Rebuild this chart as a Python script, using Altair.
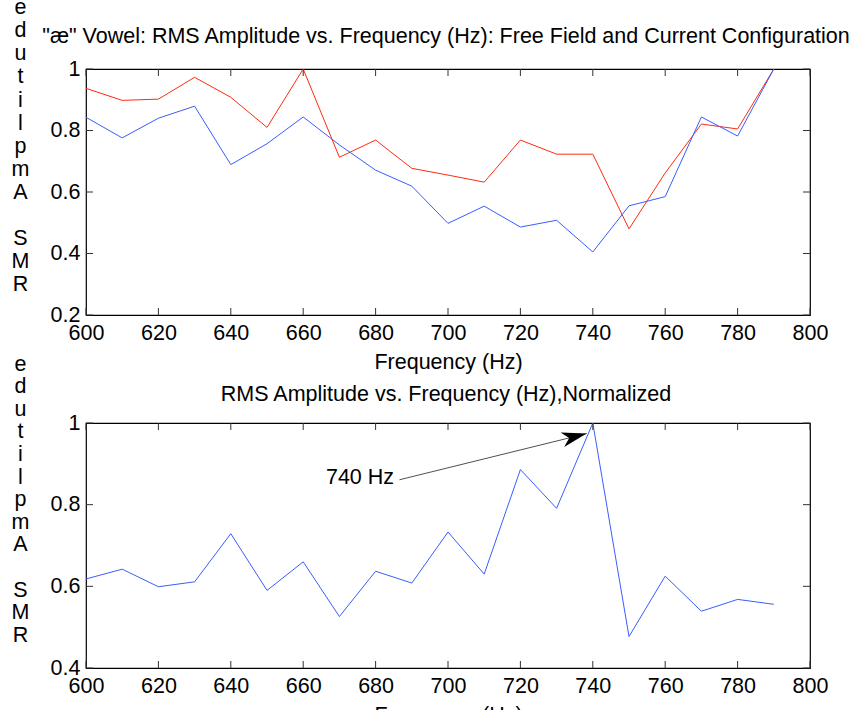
import altair as alt
import pandas as pd

# Frequencies swept (Hz)
freqs = [600, 610, 620, 630, 640, 650, 660, 670, 680, 690,
         700, 710, 720, 730, 740, 750, 760, 770, 780, 790]

# RMS amplitude, normalised to each series' maximum
free_field = [0.937, 0.898, 0.902, 0.973, 0.908, 0.810, 1.000, 0.713, 0.769, 0.677,
              0.655, 0.632, 0.769, 0.723, 0.723, 0.480, 0.662, 0.821, 0.805, 1.000]
current_cfg = [0.843, 0.776, 0.840, 0.879, 0.689, 0.757, 0.844, 0.753, 0.671, 0.619,
               0.498, 0.554, 0.486, 0.508, 0.405, 0.555, 0.585, 0.844, 0.782, 1.000]

# Ratio of the two configurations, normalised
normalized = [0.618, 0.642, 0.599, 0.611, 0.729, 0.590, 0.660, 0.526, 0.637, 0.608,
              0.733, 0.630, 0.886, 0.791, 1.000, 0.477, 0.625, 0.539, 0.568, 0.556]

x_ticks = [600, 620, 640, 660, 680, 700, 720, 740, 760, 780, 800]
y_ticks_top = [0.2, 0.4, 0.6, 0.8, 1.0]
y_ticks_bottom = [0.4, 0.6, 0.8, 1.0]

title_top = '"æ" Vowel: RMS Amplitude vs. Frequency (Hz): Free Field and Current Configuration'
title_bottom = "RMS Amplitude vs. Frequency (Hz),Normalized"
x_title = "Frequency (Hz)"
# y label stacked one character per line (zero-width space keeps the gap line)
y_title_lines = ["e", "d", "u", "t", "i", "l", "p", "m", "A", "\u200b", "S", "M", "R"]

# Peak annotation: label position and arrow from the label to the peak
note_text = ["740 Hz"]
note_x = [685.1]
note_y = [0.851]
arrow_x = [686.6]
arrow_y = [0.861]
arrow_x2 = [738.3]
arrow_y2 = [0.974]

FONT = "Liberation Sans"
FS = 21.5
W = 724
H1 = 246
H2 = 245
TICK = 7
RED = "#ff2a10"
BLUE = "#3a5cff"

X_DOM = [600, 800]
x_scale = alt.Scale(domain=X_DOM, nice=False, zero=False)


def y_label_expr():
    return "datum.value == 1 ? '1' : format(datum.value, '.1f')"


def x_axis():
    return alt.Axis(values=x_ticks, format="d", ticks=False, tickSize=0, domain=False,
                    grid=False, labelPadding=24, labelBaseline="alphabetic",
                    labelFlush=False, labelOverlap=False,
                    labelFont=FONT, labelFontSize=FS, labelColor="#000",
                    title=x_title, titleFont=FONT, titleFontSize=FS,
                    titleFontWeight="normal", titleColor="#000",
                    titleX=W / 2, titleY=53, titleBaseline="alphabetic",
                    titleAlign="center")


def y_axis(vals, title_y, line_h):
    return alt.Axis(values=vals, labelExpr=y_label_expr(), ticks=False, tickSize=0,
                    domain=False, grid=False, labelPadding=6,
                    labelBaseline="middle", labelFlush=False, labelOverlap=False,
                    labelFont=FONT, labelFontSize=FS, labelColor="#000",
                    title=y_title_lines, titleFont=FONT, titleFontSize=FS,
                    titleFontWeight="normal", titleColor="#000", titleAngle=0,
                    titleAlign="center", titleBaseline="alphabetic",
                    titleX=-66, titleY=title_y, titleLineHeight=line_h)


def tick_layer(yvals, y_dom, y_scale, height, xax, yax):
    """Short inward tick marks on all four sides of the plot box (rule segments)."""
    dx = TICK * (X_DOM[1] - X_DOM[0]) / W          # tick length in Hz
    dy = TICK * (y_dom[1] - y_dom[0]) / height     # tick length in amplitude units
    rows = []
    for v in x_ticks:
        rows.append((v, y_dom[0], v, y_dom[0] + dy))      # bottom edge
        rows.append((v, y_dom[1], v, y_dom[1] - dy))      # top edge
    for v in yvals:
        rows.append((X_DOM[0], v, X_DOM[0] + dx, v))      # left edge
        rows.append((X_DOM[1], v, X_DOM[1] - dx, v))      # right edge
    df = pd.DataFrame(rows, columns=["freq", "amp", "freq2", "amp2"])
    return alt.Chart(df).mark_rule(color="#333333", strokeWidth=1).encode(
        x=alt.X("freq:Q", scale=x_scale, axis=xax),
        y=alt.Y("amp:Q", scale=y_scale, axis=yax),
        x2="freq2:Q", y2="amp2:Q",
    )


def title_mark(text, y_px):
    return alt.Chart(pd.DataFrame({"t": [text]})).mark_text(
        font=FONT, fontSize=FS, color="#000", align="center", baseline="alphabetic"
    ).encode(text="t:N", x=alt.value(W / 2 - 2), y=alt.value(y_px))


# ---- top panel: both configurations ----
top_df = pd.DataFrame({
    "freq": freqs * 2,
    "amp": free_field + current_cfg,
    "series": ["Free Field"] * len(freqs) + ["Current Configuration"] * len(freqs),
})
Y_TOP = [0.2, 1.0]
y_top = alt.Scale(domain=Y_TOP, nice=False, zero=False)
xax_top = x_axis()
yax_top = y_axis(y_ticks_top, -55.3, 23.1)

top_lines = alt.Chart(top_df).mark_line(strokeWidth=1).encode(
    x=alt.X("freq:Q", scale=x_scale, axis=xax_top),
    y=alt.Y("amp:Q", scale=y_top, axis=yax_top),
    color=alt.Color("series:N", scale=alt.Scale(
        domain=["Free Field", "Current Configuration"], range=[RED, BLUE]), legend=None),
    order=alt.Order("freq:Q"),
)

top = alt.layer(top_lines, tick_layer(y_ticks_top, Y_TOP, y_top, H1, xax_top, yax_top),
                title_mark(title_top, -25.7)).properties(width=W, height=H1)

# ---- bottom panel: normalised ratio ----
bot_df = pd.DataFrame({"freq": freqs, "amp": normalized})
Y_BOT = [0.4, 1.0]
y_bot = alt.Scale(domain=Y_BOT, nice=False, zero=False)
xax_bot = x_axis()
yax_bot = y_axis(y_ticks_bottom, -53, 22.6)

bot_line = alt.Chart(bot_df).mark_line(strokeWidth=1, color=BLUE).encode(
    x=alt.X("freq:Q", scale=x_scale, axis=xax_bot),
    y=alt.Y("amp:Q", scale=y_bot, axis=yax_bot),
)

arrow_df = pd.DataFrame({"freq": arrow_x, "amp": arrow_y, "freq2": arrow_x2, "amp2": arrow_y2})
arrow_line = alt.Chart(arrow_df).mark_rule(color="#505050", strokeWidth=1).encode(
    x=alt.X("freq:Q", scale=x_scale, axis=xax_bot),
    y=alt.Y("amp:Q", scale=y_bot, axis=yax_bot),
    x2="freq2:Q", y2="amp2:Q",
)
arrow_head = alt.Chart(arrow_df).mark_point(
    shape="M0,0L-1,-0.3L-0.72,0L-1,0.3Z", filled=True, color="#000",
    opacity=1, size=2500, angle=346,
).encode(
    x=alt.X("freq2:Q", scale=x_scale, axis=xax_bot),
    y=alt.Y("amp2:Q", scale=y_bot, axis=yax_bot),
)
note_df = pd.DataFrame({"freq": note_x, "amp": note_y, "label": note_text})
note = alt.Chart(note_df).mark_text(
    font=FONT, fontSize=FS, color="#000", align="right", baseline="alphabetic"
).encode(
    x=alt.X("freq:Q", scale=x_scale, axis=xax_bot),
    y=alt.Y("amp:Q", scale=y_bot, axis=yax_bot),
    text="label:N",
)

bottom = alt.layer(bot_line, tick_layer(y_ticks_bottom, Y_BOT, y_bot, H2, xax_bot, yax_bot),
                   arrow_line, arrow_head, note,
                   title_mark(title_bottom, -22)).properties(width=W, height=H2)

# Figure canvas is 856 x 710: plot width plus padding fills the width, padding fills the height.
chart = alt.vconcat(top, bottom, spacing=108, bounds="flush").properties(
    autosize="none",
    padding={"left": 86, "top": 69, "right": 856 - 86 - W, "bottom": 710 - 69},
    background="white",
).configure_view(stroke="#000", strokeWidth=1.2)

chart.save("out.html", embed_options={"renderer": "svg", "actions": False})
